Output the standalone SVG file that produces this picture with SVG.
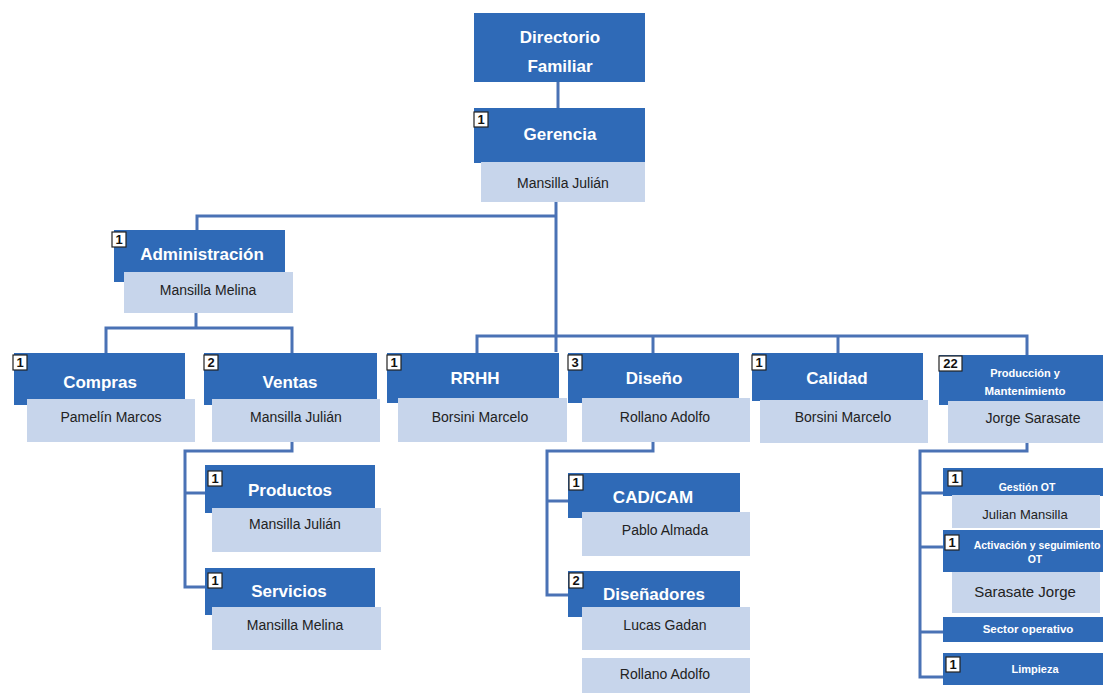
<svg xmlns="http://www.w3.org/2000/svg" width="1105" height="695" viewBox="0 0 1105 695">
<style>
.d{fill:#2f6ab7}
.l{fill:#c7d5eb}
.b{fill:#ffffff;stroke:#222;stroke-width:1.2}
.bt{font-family:"Liberation Sans",Arial,sans-serif;font-weight:bold;font-size:13px;fill:#111;text-anchor:middle}
.t{font-family:"Liberation Sans",Arial,sans-serif;font-weight:bold;font-size:17px;fill:#ffffff;text-anchor:middle}
.ts{font-family:"Liberation Sans",Arial,sans-serif;font-weight:bold;font-size:10.5px;fill:#ffffff;text-anchor:middle}
.n{font-family:"Liberation Sans",Arial,sans-serif;font-size:14px;fill:#222;text-anchor:middle}
.c{fill:none;stroke:#4a72b5;stroke-width:3}
</style>
<rect width="1105" height="695" fill="#ffffff"/>
<g id="connectors" class="c">
<path d="M558,82V108"/>
<path d="M556,202V352"/>
<path d="M197,230V216H556"/>
<path d="M477,353V336H1027V355"/>
<path d="M653,336V353"/>
<path d="M838,336V353"/>
<path d="M196,313V328"/>
<path d="M106,353V328H292V353"/>
<path d="M292,442V451H185V587H205"/>
<path d="M185,493H205"/>
<path d="M653,442V451H547V595H568"/>
<path d="M547,501H568"/>
<path d="M1027,443V451H920V677H943"/>
<path d="M920,493H943"/>
<path d="M920,547H943"/>
<path d="M920,632H943"/>
</g>
<g id="directorio">
<rect class="d" x="474" y="13" width="171" height="69"/>
<text class="t" x="560" y="43">Directorio</text>
<text class="t" x="560" y="72">Familiar</text>
</g>
<g id="gerencia">
<rect class="d" x="474" y="108" width="171" height="55"/>
<rect class="l" x="481" y="162" width="164" height="40"/>
<rect class="b" x="474" y="112" width="14" height="15"/>
<text class="bt" x="481" y="124">1</text>
<text class="t" x="560" y="140">Gerencia</text>
<text class="n" x="563" y="188">Mansilla Julián</text>
</g>
<g id="administracion">
<rect class="d" x="114" y="230" width="171" height="52"/>
<rect class="l" x="124" y="272" width="169" height="41"/>
<rect class="b" x="112" y="232" width="14" height="15"/>
<text class="bt" x="119" y="244">1</text>
<text class="t" x="202" y="260">Administración</text>
<text class="n" x="208" y="295">Mansilla Melina</text>
</g>
<g id="compras">
<rect class="d" x="14" y="353" width="171" height="52"/>
<rect class="l" x="27" y="399" width="168" height="43"/>
<rect class="b" x="13" y="355" width="14" height="15"/>
<text class="bt" x="20" y="367">1</text>
<text class="t" x="100" y="388">Compras</text>
<text class="n" x="111" y="422">Pamelín Marcos</text>
</g>
<g id="ventas">
<rect class="d" x="204" y="353" width="173" height="52"/>
<rect class="l" x="212" y="399" width="168" height="43"/>
<rect class="b" x="204" y="355" width="14" height="15"/>
<text class="bt" x="211" y="367">2</text>
<text class="t" x="290" y="388">Ventas</text>
<text class="n" x="296" y="422">Mansilla Julián</text>
</g>
<g id="rrhh">
<rect class="d" x="387" y="353" width="172" height="50"/>
<rect class="l" x="398" y="398" width="169" height="44"/>
<rect class="b" x="387" y="355" width="14" height="15"/>
<text class="bt" x="394" y="367">1</text>
<text class="t" x="475" y="384">RRHH</text>
<text class="n" x="480" y="422">Borsini Marcelo</text>
</g>
<g id="diseno">
<rect class="d" x="568" y="353" width="171" height="50"/>
<rect class="l" x="582" y="398" width="168" height="44"/>
<rect class="b" x="568" y="355" width="14" height="15"/>
<text class="bt" x="575" y="367">3</text>
<text class="t" x="654" y="384">Diseño</text>
<text class="n" x="665" y="422">Rollano Adolfo</text>
</g>
<g id="calidad">
<rect class="d" x="752" y="353" width="171" height="48"/>
<rect class="l" x="760" y="400" width="168" height="43"/>
<rect class="b" x="752" y="355" width="14" height="15"/>
<text class="bt" x="759" y="367">1</text>
<text class="t" x="837" y="384">Calidad</text>
<text class="n" x="843" y="422">Borsini Marcelo</text>
</g>
<g id="produccion">
<rect class="d" x="939" y="355" width="164" height="50"/>
<rect class="l" x="948" y="401" width="155" height="42"/>
<rect class="b" x="939" y="356" width="23" height="15"/>
<text class="bt" x="950.5" y="368">22</text>
<text class="ts" x="1025" y="377" style="font-size:11px">Producción y</text>
<text class="ts" x="1025" y="395" style="font-size:11.5px">Mantenimiento</text>
<text class="n" x="1033" y="423">Jorge Sarasate</text>
</g>
<g id="productos">
<rect class="d" x="205" y="465" width="170" height="48"/>
<rect class="l" x="212" y="508" width="169" height="44"/>
<rect class="b" x="208" y="471" width="14" height="15"/>
<text class="bt" x="215" y="483">1</text>
<text class="t" x="290" y="496">Productos</text>
<text class="n" x="295" y="529">Mansilla Julián</text>
</g>
<g id="servicios">
<rect class="d" x="205" y="568" width="170" height="47"/>
<rect class="l" x="212" y="607" width="169" height="43"/>
<rect class="b" x="208" y="573" width="14" height="15"/>
<text class="bt" x="215" y="585">1</text>
<text class="t" x="289" y="597">Servicios</text>
<text class="n" x="295" y="630">Mansilla Melina</text>
</g>
<g id="cadcam">
<rect class="d" x="568" y="473" width="172" height="45"/>
<rect class="l" x="582" y="512" width="168" height="44"/>
<rect class="b" x="569" y="475" width="14" height="15"/>
<text class="bt" x="576" y="487">1</text>
<text class="t" x="653" y="503">CAD/CAM</text>
<text class="n" x="665" y="535">Pablo Almada</text>
</g>
<g id="disenadores">
<rect class="d" x="568" y="571" width="172" height="46"/>
<rect class="l" x="582" y="607" width="168" height="43"/>
<rect class="b" x="569" y="573" width="14" height="15"/>
<text class="bt" x="576" y="585">2</text>
<text class="t" x="654" y="600">Diseñadores</text>
<text class="n" x="665" y="630">Lucas Gadan</text>
</g>
<g id="rollano">
<rect class="l" x="582" y="658" width="168" height="35"/>
<text class="n" x="665" y="679">Rollano Adolfo</text>
</g>
<g id="gestion">
<rect class="d" x="943" y="468" width="160" height="28"/>
<rect class="l" x="952" y="495" width="148" height="33"/>
<rect class="b" x="948" y="471" width="14" height="15"/>
<text class="bt" x="955" y="483">1</text>
<text class="ts" x="1027" y="491">Gestión OT</text>
<text class="n" x="1025" y="519" style="font-size:13px">Julian Mansilla</text>
</g>
<g id="activacion">
<rect class="d" x="943" y="530" width="160" height="42"/>
<rect class="l" x="952" y="572" width="148" height="41"/>
<rect class="b" x="945" y="535" width="14" height="15"/>
<text class="bt" x="952" y="547">1</text>
<text class="ts" x="1037" y="549">Activación y seguimiento</text>
<text class="ts" x="1035" y="563">OT</text>
<text class="n" x="1025" y="597" style="font-size:15px">Sarasate Jorge</text>
</g>
<g id="sector">
<rect class="d" x="943" y="617" width="160" height="25"/>
<text class="ts" x="1028" y="633" style="font-size:11.5px">Sector operativo</text>
</g>
<g id="limpieza">
<rect class="d" x="943" y="653" width="160" height="32"/>
<rect class="b" x="946" y="657" width="14" height="15"/>
<text class="bt" x="953" y="669">1</text>
<text class="ts" x="1035" y="673" style="font-size:11px">Limpieza</text>
</g>
</svg>
